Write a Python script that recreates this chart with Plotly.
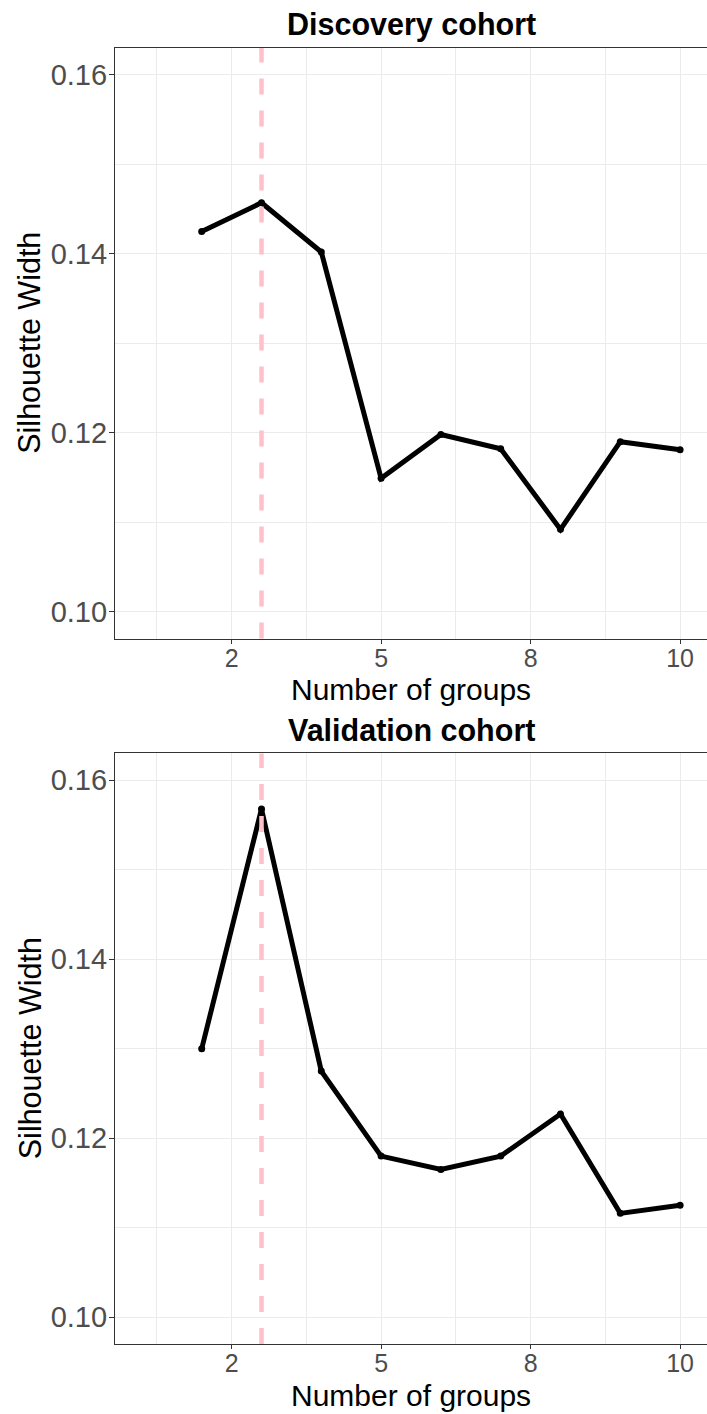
import plotly.graph_objects as go
from plotly.subplots import make_subplots

# ---- data ----
n_groups = [2, 3, 4, 5, 6, 7, 8, 9, 10]
discovery_sw = [0.1425, 0.1457, 0.1402, 0.1149, 0.1198, 0.1182, 0.1092, 0.1190, 0.1181]
validation_sw = [0.1300, 0.1568, 0.1275, 0.1180, 0.1165, 0.1180, 0.1227, 0.1116, 0.1125]
chosen_k = 3
panel_titles = ["Discovery cohort", "Validation cohort"]
x_tick_vals = [2.5, 5, 7.5, 10]
x_tick_text = ["2", "5", "8", "10"]
x_minor_vals = [1.25, 3.75, 6.25, 8.75]
y_tick_vals = [0.10, 0.12, 0.14, 0.16]
y_tick_text = ["0.10", "0.12", "0.14", "0.16"]
y_minor_vals = [0.11, 0.13, 0.15]
x_label = "Number of groups"
y_label = "Silhouette Width"

FONT = "Liberation Sans, Arial, sans-serif"
GRID = "#EBEBEB"
AX = "#333333"

fig = make_subplots(rows=2, cols=1, vertical_spacing=0.0887)

for i, ys in enumerate([discovery_sw, validation_sw], start=1):
    fig.add_trace(go.Scatter(
        x=n_groups, y=ys, mode="lines+markers",
        line=dict(color="black", width=5),
        marker=dict(color="black", size=7),
        showlegend=False, hoverinfo="skip"), row=i, col=1)
    fig.add_vline(x=chosen_k, line=dict(color="#FFC0CB", width=4.5, dash="16px,16px"),
                  row=i, col=1, layer="above")
    fig.update_xaxes(
        range=[0.55, 10.45], tickmode="array", tickvals=x_tick_vals, ticktext=x_tick_text,
        showgrid=True, gridcolor=GRID, gridwidth=1.3,
        minor=dict(tickmode="array", tickvals=x_minor_vals, showgrid=True, gridcolor=GRID, gridwidth=0.8, ticks=""),
        showline=True, mirror=True, linecolor=AX, linewidth=1.2,
        ticks="outside", ticklen=4, tickcolor=AX, tickwidth=1, ticklabelstandoff=-7,
        tickfont=dict(family=FONT, size=25, color="#4D4D4D"),
        automargin=False, zeroline=False, row=i, col=1)
    fig.update_yaxes(
        range=[0.097, 0.163], tickmode="array", tickvals=y_tick_vals, ticktext=y_tick_text,
        showgrid=True, gridcolor=GRID, gridwidth=1.3,
        minor=dict(tickmode="array", tickvals=y_minor_vals, showgrid=True, gridcolor=GRID, gridwidth=0.8, ticks=""),
        showline=True, mirror=False, linecolor=AX, linewidth=1.2,
        ticks="outside", ticklen=5, tickcolor=AX, tickwidth=1, ticklabelstandoff=-4,
        tickfont=dict(family=FONT, size=29, color="#4D4D4D"),
        automargin=False, zeroline=False, row=i, col=1)

doms = [fig.layout.yaxis.domain, fig.layout.yaxis2.domain]
for t, d in zip(panel_titles, doms):
    fig.add_annotation(text="<b>%s</b>" % t, xref="paper", yref="paper", x=0.5, y=d[1],
                       yanchor="bottom", showarrow=False, yshift=4,
                       font=dict(family=FONT, size=30.5, color="black"))
    fig.add_annotation(text=x_label, xref="paper", yref="paper", x=0.5, y=d[0],
                       yanchor="middle", showarrow=False, yshift=-51,
                       font=dict(family=FONT, size=30, color="black"))
    fig.add_annotation(text=y_label, xref="paper", yref="paper", x=0, y=(d[0] + d[1]) / 2,
                       xanchor="center", yanchor="middle", textangle=-90, showarrow=False,
                       xshift=-85.5, font=dict(family=FONT, size=30.5, color="black"))

fig.update_layout(
    width=707, height=1414,
    margin=dict(l=115, r=0, t=48, b=70),
    plot_bgcolor="white", paper_bgcolor="white",
)
fig.write_html("out.html", config={"displayModeBar": False},
               post_script="document.body.style.margin='0';document.body.style.overflow='hidden';")
